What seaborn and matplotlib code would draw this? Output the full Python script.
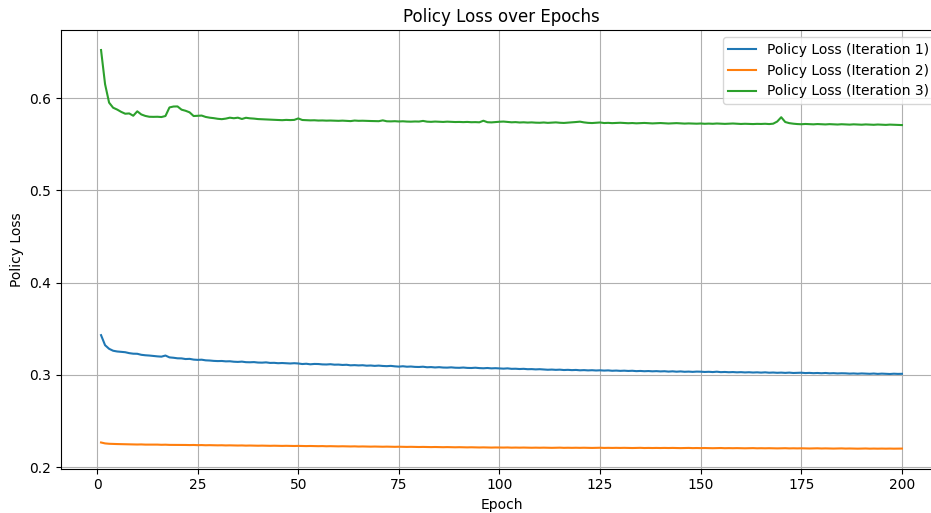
import matplotlib
matplotlib.use("Agg")
import matplotlib.pyplot as plt
import seaborn as sns
import pandas as pd

epochs = list(range(1, 201))

loss_iter1 = [
    0.3431, 0.3322, 0.3283, 0.3262, 0.3254, 0.3250, 0.3246, 0.3236, 0.3230, 0.3229,
    0.3218, 0.3213, 0.3210, 0.3205, 0.3201, 0.3198, 0.3210, 0.3190, 0.3186, 0.3180,
    0.3179, 0.3172, 0.3174, 0.3166, 0.3163, 0.3165, 0.3158, 0.3156, 0.3152, 0.3150,
    0.3151, 0.3147, 0.3148, 0.3143, 0.3141, 0.3144, 0.3138, 0.3137, 0.3139, 0.3134,
    0.3133, 0.3136, 0.3130, 0.3131, 0.3127, 0.3129, 0.3126, 0.3124, 0.3127, 0.3124,
    0.3118, 0.3121, 0.3115, 0.3119, 0.3118, 0.3114, 0.3113, 0.3116, 0.3111, 0.3112,
    0.3108, 0.3110, 0.3104, 0.3106, 0.3103, 0.3105, 0.3100, 0.3102, 0.3098, 0.3101,
    0.3097, 0.3095, 0.3098, 0.3093, 0.3090, 0.3094, 0.3089, 0.3091, 0.3087, 0.3086,
    0.3089, 0.3083, 0.3085, 0.3081, 0.3084, 0.3080, 0.3079, 0.3082, 0.3078, 0.3077,
    0.3080, 0.3076, 0.3075, 0.3078, 0.3074, 0.3072, 0.3075, 0.3071, 0.3073, 0.3070,
    0.3068, 0.3071, 0.3066, 0.3067, 0.3064, 0.3066, 0.3062, 0.3063, 0.3060, 0.3062,
    0.3059, 0.3056, 0.3058, 0.3055, 0.3057, 0.3053, 0.3055, 0.3052, 0.3054, 0.3050,
    0.3052, 0.3049, 0.3051, 0.3048, 0.3050, 0.3047, 0.3049, 0.3045, 0.3047, 0.3044,
    0.3046, 0.3043, 0.3045, 0.3041, 0.3043, 0.3040, 0.3042, 0.3039, 0.3041, 0.3038,
    0.3040, 0.3036, 0.3039, 0.3035, 0.3038, 0.3034, 0.3036, 0.3033, 0.3036, 0.3035,
    0.3032, 0.3034, 0.3031, 0.3035, 0.3030, 0.3032, 0.3029, 0.3031, 0.3028, 0.3030,
    0.3027, 0.3029, 0.3026, 0.3028, 0.3025, 0.3028, 0.3024, 0.3026, 0.3023, 0.3025,
    0.3022, 0.3025, 0.3021, 0.3023, 0.3024, 0.3020, 0.3022, 0.3019, 0.3021, 0.3018,
    0.3021, 0.3017, 0.3019, 0.3016, 0.3018, 0.3017, 0.3014, 0.3016, 0.3013, 0.3016,
    0.3014, 0.3012, 0.3015, 0.3011, 0.3014, 0.3012, 0.3010, 0.3013, 0.3011, 0.3012,
]

loss_iter2 = [
    0.2268, 0.2258, 0.2254, 0.2252, 0.2251, 0.2250, 0.2249, 0.2249, 0.2247, 0.2246,
    0.2247, 0.2245, 0.2245, 0.2244, 0.2245, 0.2243, 0.2244, 0.2242, 0.2242, 0.2243,
    0.2241, 0.2241, 0.2240, 0.2241, 0.2239, 0.2240, 0.2238, 0.2239, 0.2238, 0.2237,
    0.2238, 0.2236, 0.2237, 0.2236, 0.2235, 0.2236, 0.2234, 0.2235, 0.2234, 0.2233,
    0.2234, 0.2233, 0.2232, 0.2233, 0.2232, 0.2231, 0.2232, 0.2231, 0.2230, 0.2231,
    0.2230, 0.2229, 0.2230, 0.2229, 0.2228, 0.2229, 0.2227, 0.2228, 0.2227, 0.2226,
    0.2227, 0.2226, 0.2225, 0.2226, 0.2224, 0.2225, 0.2224, 0.2223, 0.2224, 0.2223,
    0.2222, 0.2223, 0.2222, 0.2221, 0.2222, 0.2221, 0.2220, 0.2221, 0.2220, 0.2219,
    0.2220, 0.2219, 0.2218, 0.2219, 0.2218, 0.2217, 0.2218, 0.2217, 0.2216, 0.2217,
    0.2216, 0.2215, 0.2216, 0.2215, 0.2214, 0.2215, 0.2214, 0.2213, 0.2214, 0.2213,
    0.2213, 0.2214, 0.2212, 0.2213, 0.2212, 0.2213, 0.2212, 0.2211, 0.2212, 0.2211,
    0.2212, 0.2211, 0.2210, 0.2211, 0.2212, 0.2210, 0.2211, 0.2210, 0.2211, 0.2210,
    0.2211, 0.2210, 0.2209, 0.2210, 0.2211, 0.2209, 0.2210, 0.2209, 0.2210, 0.2209,
    0.2210, 0.2209, 0.2208, 0.2209, 0.2210, 0.2208, 0.2209, 0.2208, 0.2209, 0.2208,
    0.2209, 0.2208, 0.2209, 0.2208, 0.2207, 0.2208, 0.2209, 0.2207, 0.2208, 0.2207,
    0.2208, 0.2207, 0.2206, 0.2207, 0.2208, 0.2206, 0.2207, 0.2206, 0.2207, 0.2206,
    0.2205, 0.2206, 0.2207, 0.2205, 0.2206, 0.2205, 0.2206, 0.2205, 0.2204, 0.2205,
    0.2206, 0.2204, 0.2205, 0.2204, 0.2205, 0.2204, 0.2203, 0.2204, 0.2205, 0.2203,
    0.2204, 0.2203, 0.2202, 0.2203, 0.2204, 0.2202, 0.2203, 0.2202, 0.2201, 0.2202,
    0.2203, 0.2201, 0.2202, 0.2201, 0.2202, 0.2201, 0.2202, 0.2201, 0.2202, 0.2202,
]

loss_iter3 = [
    0.6520, 0.6150, 0.5950, 0.5895, 0.5875, 0.5850, 0.5830, 0.5833, 0.5808, 0.5856,
    0.5822, 0.5806, 0.5797, 0.5796, 0.5797, 0.5794, 0.5805, 0.5898, 0.5908, 0.5909,
    0.5874, 0.5862, 0.5845, 0.5805, 0.5808, 0.5810, 0.5795, 0.5787, 0.5782, 0.5775,
    0.5771, 0.5777, 0.5787, 0.5781, 0.5787, 0.5773, 0.5786, 0.5780, 0.5777, 0.5772,
    0.5770, 0.5768, 0.5766, 0.5764, 0.5762, 0.5760, 0.5763, 0.5761, 0.5763, 0.5779,
    0.5762, 0.5760, 0.5758, 0.5759, 0.5756, 0.5757, 0.5755, 0.5756, 0.5754, 0.5753,
    0.5755, 0.5752, 0.5750, 0.5756, 0.5753, 0.5754, 0.5752, 0.5751, 0.5750, 0.5749,
    0.5758, 0.5748, 0.5747, 0.5749, 0.5746, 0.5748, 0.5745, 0.5744, 0.5746, 0.5745,
    0.5752, 0.5744, 0.5742, 0.5745, 0.5743, 0.5741, 0.5744, 0.5742, 0.5740, 0.5741,
    0.5739, 0.5741, 0.5738, 0.5739, 0.5737, 0.5754, 0.5738, 0.5736, 0.5740, 0.5743,
    0.5745, 0.5741, 0.5737, 0.5739, 0.5735, 0.5737, 0.5734, 0.5736, 0.5733, 0.5732,
    0.5735, 0.5731, 0.5733, 0.5736, 0.5732, 0.5730, 0.5733, 0.5736, 0.5740, 0.5744,
    0.5736, 0.5731, 0.5729, 0.5732, 0.5735, 0.5729, 0.5731, 0.5728, 0.5730, 0.5732,
    0.5729, 0.5727, 0.5729, 0.5726, 0.5728, 0.5730, 0.5727, 0.5725, 0.5727, 0.5729,
    0.5726, 0.5724, 0.5726, 0.5728, 0.5725, 0.5723, 0.5725, 0.5724, 0.5722, 0.5724,
    0.5721, 0.5723, 0.5721, 0.5724, 0.5722, 0.5720, 0.5722, 0.5724, 0.5721, 0.5719,
    0.5721, 0.5720, 0.5718, 0.5720, 0.5719, 0.5721, 0.5718, 0.5722, 0.5745, 0.5792,
    0.5740, 0.5728, 0.5722, 0.5718, 0.5716, 0.5719, 0.5717, 0.5715, 0.5718, 0.5716,
    0.5714, 0.5717, 0.5715, 0.5713, 0.5716, 0.5714, 0.5712, 0.5715, 0.5713, 0.5711,
    0.5714, 0.5712, 0.5710, 0.5713, 0.5711, 0.5709, 0.5712, 0.5710, 0.5708, 0.5707,
]

series_labels = [
    "Policy Loss (Iteration 1)",
    "Policy Loss (Iteration 2)",
    "Policy Loss (Iteration 3)",
]

df = pd.DataFrame({
    "Epoch": epochs,
    series_labels[0]: loss_iter1,
    series_labels[1]: loss_iter2,
    series_labels[2]: loss_iter3,
})

palette = sns.color_palette("tab10")

fig = plt.figure(figsize=(9.31, 5.13), dpi=100)
ax = fig.add_axes([61 / 931, 44.4 / 513, 881 / 931, 438.5 / 513])

for i, label in enumerate(series_labels):
    sns.lineplot(data=df, x="Epoch", y=label, ax=ax, label=label,
                 color=palette[i], linewidth=1.5)

ax.set_title("Policy Loss over Epochs", fontsize=12)
ax.set_xlabel("Epoch", fontsize=10)
ax.set_ylabel("Policy Loss", fontsize=10)
ax.grid(True)
ax.legend(loc="upper right", fontsize=10)

fig.savefig("out.png", dpi=100)
